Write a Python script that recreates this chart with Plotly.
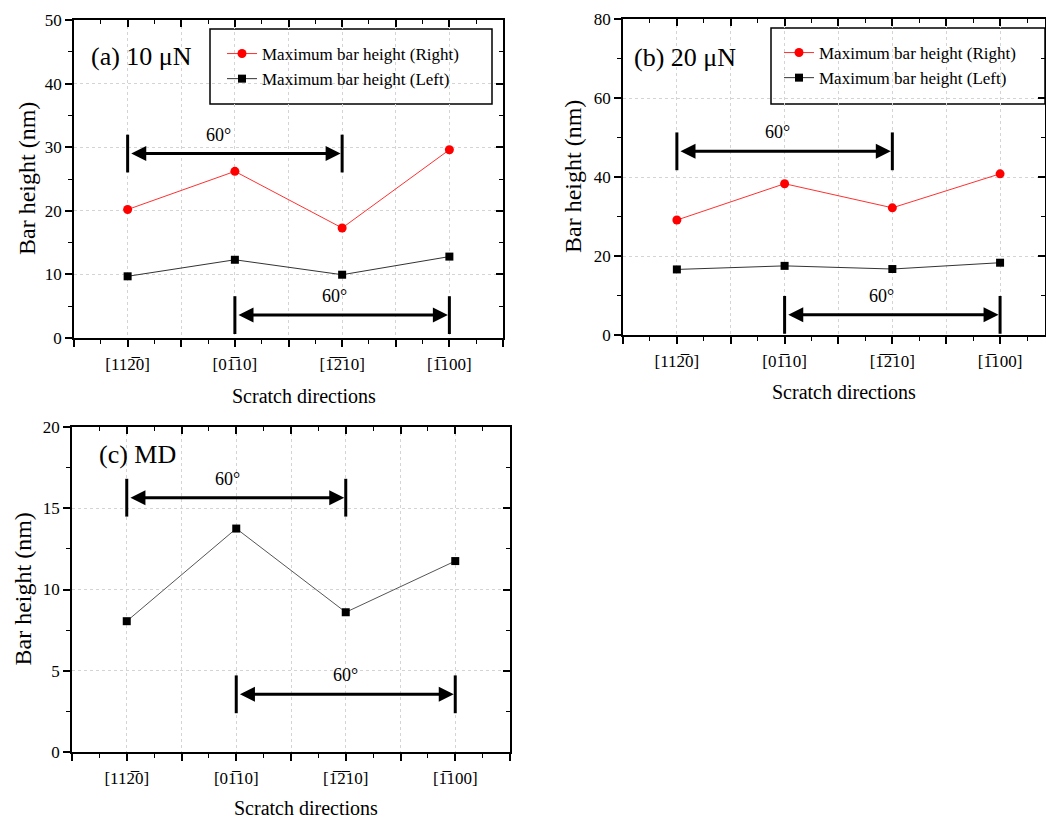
import plotly.graph_objects as go

# ---------------- data ----------------
categories = [1, 2, 3, 4]
tick_labels = ["[112\u03050]", "[01\u030510]", "[1\u03052\u030510]", "[1\u0305100]"]

a_right = [20.2, 26.2, 17.3, 29.6]
a_left = [9.7, 12.3, 9.95, 12.8]
b_right = [29.1, 38.3, 32.2, 40.8]
b_left = [16.6, 17.5, 16.7, 18.3]
c_md = [8.05, 13.75, 8.6, 11.75]

# 60-degree span arrows: start / end category, heights per panel, label x
arrow_start = [1, 2]
arrow_end = [3, 4]
a_arrow_y = [29.0, 3.6]
b_arrow_y = [46.5, 5.1]
c_arrow_y = [15.65, 3.55]
a_label_x = [1.85, 2.93]
b_label_x = [1.93, 2.9]
c_label_x = [1.92, 3.0]
arrow_text = "60\u00b0"

panel_titles = ["(a) 10 \u03bcN", "(b) 20 \u03bcN", "(c) MD"]
y_title = "Bar height (nm)"
x_title = "Scratch directions"

W, H = 1046, 821
FONT = "Liberation Serif"

def px(x):
    return x / W

def py(y):
    return 1 - y / H

panels = [
    dict(xd=[74, 503], yd=[20, 338], xr=[0.5, 4.5], yr=[0, 50], ymaj=10),
    dict(xd=[623, 1045], yd=[19, 335], xr=[0.5, 4.417], yr=[0, 80], ymaj=20),
    dict(xd=[72, 510], yd=[427, 752], xr=[0.5, 4.5], yr=[0, 20], ymaj=5),
]

fig = go.Figure()
layout = dict(
    width=W, height=H, margin=dict(l=0, r=0, t=0, b=0, autoexpand=False),
    paper_bgcolor="white", plot_bgcolor="white",
    font=dict(family=FONT, color="black", size=17),
    showlegend=True,
)

xt_vals = [0.5, 1, 1.5, 2, 2.5, 3, 3.5, 4, 4.5]
xt_text = ["", tick_labels[0], "", tick_labels[1], "", tick_labels[2], "", tick_labels[3], ""]
x_minor = [0.75, 1.25, 1.75, 2.25, 2.75, 3.25, 3.75, 4.25]
GRID = "#d4d4d4"

annotations = []
shapes = []

for i, p in enumerate(panels):
    n = i + 1
    ox = n + 3  # overlay (mirror) axis index
    xd = [px(p["xd"][0]), px(p["xd"][1])]
    yd = [py(p["yd"][1]), py(p["yd"][0])]
    common_x = dict(range=p["xr"], domain=xd, tickmode="array", tickvals=xt_vals,
                    showline=True, linecolor="black", linewidth=1.5, zeroline=False,
                    ticklen=7, tickwidth=1.5, tickcolor="black", automargin=False)
    common_y = dict(range=p["yr"], domain=yd, dtick=p["ymaj"], tick0=0,
                    showline=True, linecolor="black", linewidth=1.5, zeroline=False,
                    ticklen=7, tickwidth=1.5, tickcolor="black", automargin=False)
    xminor = dict(tickmode="array", tickvals=x_minor, ticklen=4, tickwidth=1.2, tickcolor="black", showgrid=False)
    yminor = dict(dtick=p["ymaj"] / 2, ticklen=4, tickwidth=1.2, tickcolor="black", showgrid=False)
    layout[f"xaxis{n}"] = dict(common_x, anchor=f"y{n}", ticks="outside", ticktext=xt_text,
                               showgrid=True, gridcolor=GRID, griddash="dot", gridwidth=1,
                               tickfont=dict(size=17), ticklabelstandoff=3,
                               minor=dict(xminor, ticks="outside"))
    layout[f"yaxis{n}"] = dict(common_y, anchor=f"x{n}", ticks="outside",
                               showgrid=True, gridcolor=GRID, griddash="dot", gridwidth=1,
                               tickfont=dict(size=17), minor=dict(yminor, ticks="outside"))
    layout[f"xaxis{ox}"] = dict(common_x, anchor=f"y{n}", overlaying=f"x{n}", side="top",
                                ticks="inside", showticklabels=False, showgrid=False,
                                ticktext=[""] * len(xt_vals), minor=dict(xminor, ticks="inside"))
    layout[f"yaxis{ox}"] = dict(common_y, anchor=f"x{n}", overlaying=f"y{n}", side="right",
                                ticks="inside", showticklabels=False, showgrid=False,
                                minor=dict(yminor, ticks="inside"))
    # empty traces so the mirrored frame axes get drawn
    fig.add_trace(go.Scatter(x=[None], y=[None], xaxis=f"x{ox}", yaxis=f"y{n}" if n > 1 else "y",
                             showlegend=False, hoverinfo="skip"))
    fig.add_trace(go.Scatter(x=[None], y=[None], xaxis=f"x{n}" if n > 1 else "x", yaxis=f"y{ox}",
                             showlegend=False, hoverinfo="skip"))

    # panel label
    annotations.append(dict(text=panel_titles[i], xref="paper", yref="paper",
                            x=px(p["xd"][0] + [15, 9, 25][i]), y=py(p["yd"][0] + [36, 39, 27][i]),
                            xanchor="left", yanchor="middle", showarrow=False,
                            font=dict(size=26, family=FONT)))
    # axis titles
    annotations.append(dict(text=y_title, xref="paper", yref="paper",
                            x=px(p["xd"][0] - [47, 50, 50][i]), y=py((p["yd"][0] + p["yd"][1]) / 2),
                            textangle=-90, showarrow=False, xanchor="center", yanchor="middle",
                            font=dict(size=24, family=FONT)))
    annotations.append(dict(text=x_title, xref="paper", yref="paper",
                            x=px((p["xd"][0] + p["xd"][1]) / 2 + [15, 10, 15][i]), y=py(p["yd"][1] + [58, 57, 56][i]),
                            showarrow=False, xanchor="center", yanchor="middle",
                            font=dict(size=20, family=FONT)))

# ---------------- traces ----------------
fig.add_trace(go.Scatter(x=categories, y=a_right, mode="lines+markers", name="Maximum bar height (Right)",
                         line=dict(color="#ff3030", width=1), marker=dict(symbol="circle", size=9, color="red"),
                         xaxis="x", yaxis="y", legend="legend"))
fig.add_trace(go.Scatter(x=categories, y=a_left, mode="lines+markers", name="Maximum bar height (Left)",
                         line=dict(color="#333333", width=1), marker=dict(symbol="square", size=8, color="black"),
                         xaxis="x", yaxis="y", legend="legend"))
fig.add_trace(go.Scatter(x=categories, y=b_right, mode="lines+markers", name="Maximum bar height (Right)",
                         line=dict(color="#ff3030", width=1), marker=dict(symbol="circle", size=9, color="red"),
                         xaxis="x2", yaxis="y2", legend="legend2"))
fig.add_trace(go.Scatter(x=categories, y=b_left, mode="lines+markers", name="Maximum bar height (Left)",
                         line=dict(color="#333333", width=1), marker=dict(symbol="square", size=8, color="black"),
                         xaxis="x2", yaxis="y2", legend="legend2"))
fig.add_trace(go.Scatter(x=categories, y=c_md, mode="lines+markers", name="MD",
                         line=dict(color="#555555", width=1), marker=dict(symbol="square", size=8, color="black"),
                         xaxis="x3", yaxis="y3", showlegend=False))

# arrows with end bars
for n, ys, lx in [(1, a_arrow_y, a_label_x), (2, b_arrow_y, b_label_x), (3, c_arrow_y, c_label_x)]:
    xa = "x" if n == 1 else f"x{n}"
    ya = "y" if n == 1 else f"y{n}"
    for k in range(2):
        y = ys[k]
        fig.add_trace(go.Scatter(x=[arrow_start[k], arrow_end[k]], y=[y, y], mode="markers",
                                 marker=dict(symbol="line-ns-open", size=27, color="black",
                                             line=dict(width=3, color="black")),
                                 xaxis=xa, yaxis=ya, showlegend=False, hoverinfo="skip"))
        annotations.append(dict(x=arrow_end[k], y=y, ax=arrow_start[k] + 0.02, ay=y,
                                xref=xa, yref=ya, axref=xa, ayref=ya, text="", showarrow=True,
                                arrowside="end+start", arrowhead=2, startarrowhead=2,
                                arrowsize=1, startarrowsize=1, arrowwidth=3, arrowcolor="black",
                                standoff=1.5, startstandoff=0))
        annotations.append(dict(x=lx[k], y=y, xref=xa, yref=ya, text=arrow_text, showarrow=False,
                                yshift=19, font=dict(size=18, family=FONT)))

# legend boxes
for (x0, y0, x1, y1) in [(210, 29, 492, 104), (771, 28, 1045, 104)]:
    shapes.append(dict(type="rect", xref="paper", yref="paper", x0=px(x0), x1=px(x1), y0=py(y1), y1=py(y0),
                       line=dict(color="black", width=1.5), fillcolor="white", layer="below"))

layout["legend"] = dict(x=px(222), y=py(36), xanchor="left", yanchor="top", bgcolor="rgba(0,0,0,0)",
                        borderwidth=0, font=dict(size=17, family=FONT), tracegroupgap=0)
layout["legend2"] = dict(x=px(779), y=py(35), xanchor="left", yanchor="top", bgcolor="rgba(0,0,0,0)",
                         borderwidth=0, font=dict(size=17, family=FONT), tracegroupgap=0)
layout["annotations"] = annotations
layout["shapes"] = shapes

fig.update_layout(**layout)
fig.write_html("out.html", post_script="document.body.style.margin='0px';")
